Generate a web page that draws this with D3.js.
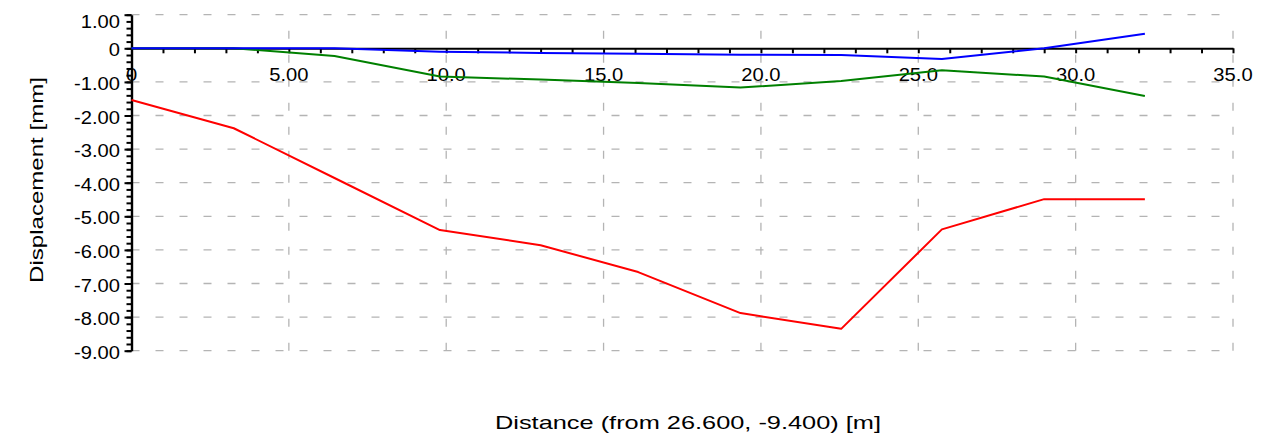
<!DOCTYPE html>
<html>
<head>
<meta charset="utf-8">
<script src="https://cdn.jsdelivr.net/npm/d3@7/dist/d3.min.js"></script>
<style>
  html, body { margin: 0; padding: 0; background: #fff; }
  text { font-family: "Liberation Sans", Arial, sans-serif; fill: #000; }
</style>
</head>
<body>
<svg id="chart" width="1264" height="442"></svg>
<script>
// ---- data ----
const distances = [0, 3.25, 6.45, 9.8, 13.0, 16.1, 19.35, 22.55, 25.75, 29.0, 32.2];
const redValues   = [-1.54, -2.38, -3.86, -5.41, -5.86, -6.66, -7.88, -8.35, -5.39, -4.49, -4.49];
const greenValues = [0, 0, -0.23, -0.84, -0.93, -1.03, -1.17, -0.97, -0.65, -0.84, -1.42];
const blueValues  = [0, 0, 0, -0.1, -0.14, -0.16, -0.19, -0.2, -0.32, 0, 0.43];
const xTicks = [0, 5, 10, 15, 20, 25, 30, 35];
const xTickLabels = ["0", "5.00", "10.0", "15.0", "20.0", "25.0", "30.0", "35.0"];
const yTicks = [1, 0, -1, -2, -3, -4, -5, -6, -7, -8, -9];
const yTickLabels = ["1.00", "0", "-1.00", "-2.00", "-3.00", "-4.00", "-5.00", "-6.00", "-7.00", "-8.00", "-9.00"];
const xTitle = "Distance (from 26.600, -9.400) [m]";
const yTitle = "Displacement [mm]";
const series = [
  { name: "red", color: "#ff0000", values: redValues },
  { name: "green", color: "#008000", values: greenValues },
  { name: "blue", color: "#0000ff", values: blueValues }
];

const svg = d3.select("#chart");
const x = d3.scaleLinear().domain([0, 35]).range([131.5, 1233]);
const y = d3.scaleLinear().domain([-9, 1]).range([350.7, 14.7]);

// horizontal stretch helper for text
function stretch(sel, factor) {
  sel.each(function () {
    const w = this.getComputedTextLength();
    d3.select(this).attr("textLength", w * factor).attr("lengthAdjust", "spacingAndGlyphs");
  });
}

// ---- grid ----
const grid = svg.append("g");
grid.selectAll("line.h").data(yTicks.filter(v => v !== 0)).join("line")
  .attr("x1", x(0)).attr("x2", x(35))
  .attr("y1", d => y(d)).attr("y2", d => y(d))
  .attr("stroke", "#b4b4b4").attr("stroke-width", 1.3)
  .attr("stroke-dasharray", "8,16");
grid.selectAll("line.v").data(xTicks.filter(v => v !== 0)).join("line")
  .attr("x1", d => x(d)).attr("x2", d => x(d))
  .attr("y1", y(-9)).attr("y2", y(1))
  .attr("stroke", "#b4b4b4").attr("stroke-width", 1.3)
  .attr("stroke-dasharray", "8,16");

// ---- x axis (at y = 0) ----
const xAxis = d3.axisBottom(x)
  .tickValues(d3.range(0, 36, 1))
  .tickSize(5)
  .tickSizeOuter(0)
  .tickFormat("");
const gx = svg.append("g").attr("transform", `translate(0,${y(0)})`).call(xAxis);
gx.select(".domain").attr("stroke", "#000").attr("stroke-width", 2);
gx.selectAll(".tick line").attr("stroke", "#000").attr("stroke-width", 2);

const xl = svg.append("g").selectAll("text").data(xTicks).join("text")
  .attr("x", d => x(d)).attr("y", 81)
  .attr("text-anchor", "middle")
  .attr("font-size", 18)
  .text((d, i) => xTickLabels[i]);
stretch(xl, 1.12);

// ---- y axis ----
const yMinor = d3.axisLeft(y)
  .tickValues(d3.range(-9, 1.001, 0.2))
  .tickSize(5)
  .tickSizeOuter(0)
  .tickFormat("");
const gy = svg.append("g").attr("transform", `translate(${x(0)},0)`).call(yMinor);
gy.select(".domain").attr("stroke", "#000").attr("stroke-width", 2.4);
gy.selectAll(".tick line").attr("stroke", "#000").attr("stroke-width", 2);
const yMajor = d3.axisLeft(y).tickValues(yTicks).tickSize(7).tickSizeOuter(0).tickFormat("");
const gy2 = svg.append("g").attr("transform", `translate(${x(0)},0)`).call(yMajor);
gy2.select(".domain").remove();
gy2.selectAll(".tick line").attr("stroke", "#000").attr("stroke-width", 2);

const yl = svg.append("g").selectAll("text").data(yTicks).join("text")
  .attr("x", 120)
  .attr("y", d => Math.max(y(d) + 8, 28))
  .attr("text-anchor", "end")
  .attr("font-size", 18)
  .text((d, i) => yTickLabels[i]);
stretch(yl, 1.12);

// ---- lines ----
const line = d3.line().x((d, i) => x(distances[i])).y(d => y(d));
svg.append("g").selectAll("path").data(series).join("path")
  .attr("d", d => line(d.values))
  .attr("fill", "none")
  .attr("stroke", d => d.color)
  .attr("stroke-width", 2)
  .attr("stroke-linejoin", "round");

// ---- titles ----
const xt = svg.append("text")
  .attr("x", 688).attr("y", 429)
  .attr("text-anchor", "middle")
  .attr("font-size", 18.5)
  .text(xTitle);
stretch(xt, 1.37);

const yt = svg.append("text")
  .attr("transform", "translate(43,180) rotate(-90)")
  .attr("text-anchor", "middle")
  .attr("font-size", 18.5)
  .text(yTitle);
stretch(yt, 1.3);
</script>
</body>
</html>
